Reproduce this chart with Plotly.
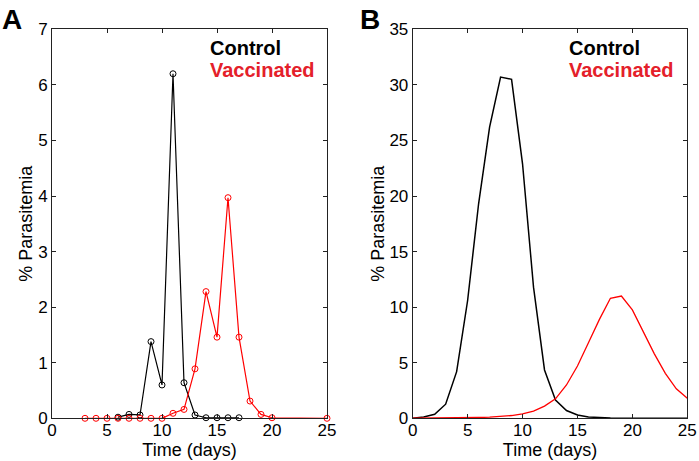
import plotly.graph_objects as go

# ---- Panel A data ----
a_control_days = [6, 7, 8, 9, 10, 11, 12, 13, 14, 15, 16, 17]
a_control_vals = [0.02, 0.07, 0.06, 1.38, 0.6, 6.2, 0.64, 0.06, 0.01, 0.01, 0.01, 0.01]
a_vacc_days = [3, 4, 5, 6, 7, 8, 9, 10, 11, 12, 13, 14, 15, 16, 17, 18, 19, 20, 25]
a_vacc_vals = [0, 0, 0, 0, 0, 0, 0, 0, 0.09, 0.16, 0.89, 2.28, 1.46, 3.97, 1.46, 0.31, 0.07, 0.01, 0]

# ---- Panel B data ----
b_days = list(range(0, 26))
b_control_vals = [0, 0.12, 0.36, 1.27, 4.2, 10.6, 19.3, 26.2, 30.7, 30.5, 22.9, 11.8, 4.35,
                  1.65, 0.7, 0.3, 0.12, 0.05, 0.02, 0.01, 0, 0, 0, 0, 0, 0]
b_vacc_vals = [0.01, 0.01, 0.02, 0.03, 0.04, 0.05, 0.07, 0.1, 0.15, 0.25, 0.4, 0.65, 1.1,
               1.75, 3.0, 4.7, 6.8, 8.9, 10.8, 11.0, 9.75, 7.8, 5.8, 4.05, 2.65, 1.8]

x_ticks = [0, 5, 10, 15, 20, 25]
a_y_ticks = [0, 1, 2, 3, 4, 5, 6, 7]
b_y_ticks = [0, 5, 10, 15, 20, 25, 30, 35]

FONT = "Liberation Sans, Arial, sans-serif"
BLACK = "#000000"
RED = "#ff0000"
RED_TEXT = "#e4202a"

fig = go.Figure()
fig.add_trace(go.Scatter(x=a_control_days, y=a_control_vals, mode="lines+markers",
                         line=dict(color=BLACK, width=1.2),
                         marker=dict(symbol="circle-open", size=6, color=BLACK, line=dict(width=1)),
                         xaxis="x", yaxis="y", cliponaxis=False, showlegend=False))
fig.add_trace(go.Scatter(x=a_vacc_days, y=a_vacc_vals, mode="lines+markers",
                         line=dict(color=RED, width=1.2),
                         marker=dict(symbol="circle-open", size=6, color=RED, line=dict(width=1)),
                         xaxis="x", yaxis="y", cliponaxis=False, showlegend=False))
fig.add_trace(go.Scatter(x=b_days, y=b_control_vals, mode="lines",
                         line=dict(color=BLACK, width=1.5),
                         xaxis="x2", yaxis="y2", showlegend=False))
fig.add_trace(go.Scatter(x=b_days, y=b_vacc_vals, mode="lines",
                         line=dict(color=RED, width=1.3),
                         xaxis="x2", yaxis="y2", showlegend=False))

W, H = 699, 461
axis_common = dict(showline=True, linecolor="#222222", linewidth=1, mirror="ticks",
                   ticks="inside", ticklen=4, tickcolor="#222222", showgrid=False,
                   zeroline=False, automargin=False,
                   tickfont=dict(family=FONT, size=17, color=BLACK))
title_font = dict(family=FONT, size=18, color=BLACK)

ytop = 1 - 29.3 / H
ybot = 1 - 418.3 / H

xa = dict(range=[0, 25], tickvals=x_ticks, ticklabelstandoff=-4,
          title=dict(text="Time (days)", font=title_font, standoff=1), **axis_common)
fig.update_layout(
    width=W, height=H, margin=dict(l=0, r=0, t=0, b=0, autoexpand=False),
    paper_bgcolor="white", plot_bgcolor="white",
    xaxis=dict(domain=[52 / W, 327 / W], anchor="y", **xa),
    yaxis=dict(domain=[ybot, ytop], range=[0, 7], tickvals=a_y_ticks, anchor="x",
               title=dict(text="% Parasitemia", font=title_font, standoff=0), **axis_common),
    xaxis2=dict(domain=[412.7 / W, 687.3 / W], anchor="y2", **xa),
    yaxis2=dict(domain=[ybot, ytop], range=[0, 35], tickvals=b_y_ticks, anchor="x2",
                title=dict(text="% Parasitemia", font=title_font, standoff=0), **axis_common),
)

def label(text, x, y, size, color, bold=True, xanchor="left"):
    fig.add_annotation(text=f"<b>{text}</b>" if bold else text, xref="paper", yref="paper",
                       x=x / W, y=1 - y / H, xanchor=xanchor, yanchor="middle", showarrow=False,
                       font=dict(family=FONT, size=size, color=color))

label("A", 0, 19, 28, BLACK)
label("B", 358, 19, 28, BLACK)
label("Control", 208, 48, 20, BLACK)
label("Vaccinated", 208, 70, 20, RED_TEXT)
label("Control", 567, 48, 20, BLACK)
label("Vaccinated", 567, 70, 20, RED_TEXT)

fig.write_html("out.html", config={"displayModeBar": False},
               post_script="document.body.style.margin='0';document.body.style.overflow='hidden';")
